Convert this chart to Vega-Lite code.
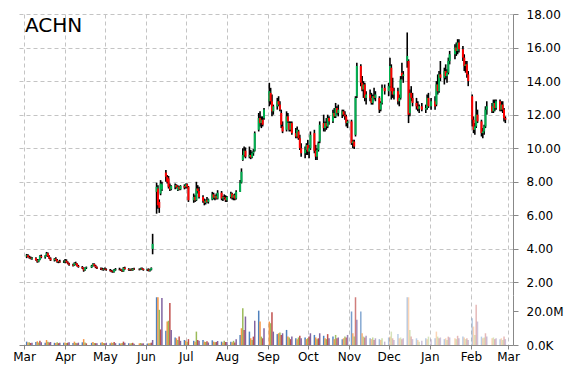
{
"$schema": "https://vega.github.io/schema/vega-lite/v6.json",
"background": "white",
"padding": {"left": 12, "top": 8, "right": 5, "bottom": 5},
"title": {"text": "ACHN", "anchor": "start", "frame": "group", "font": "DejaVu Sans", "fontSize": 20, "fontWeight": "normal", "color": "#000000", "dx": 6, "dy": 28, "offset": 0},
"config": {"font": "DejaVu Sans", "view": {"stroke": null}},
"spacing": 0,
"resolve": {"scale": {"y": "independent"}, "axis": {"y": "independent"}},
"data": {"values": [
{"d":"2014-03-03","o":3.55,"h":3.70,"l":3.45,"c":3.62,"v":2.0},
{"d":"2014-03-04","o":3.62,"h":3.68,"l":3.50,"c":3.52,"v":1.5},
{"d":"2014-03-05","o":3.52,"h":3.60,"l":3.42,"c":3.48,"v":1.6},
{"d":"2014-03-06","o":3.48,"h":3.55,"l":3.38,"c":3.42,"v":1.2},
{"d":"2014-03-07","o":3.42,"h":3.52,"l":3.36,"c":3.47,"v":1.4},
{"d":"2014-03-10","o":3.45,"h":3.50,"l":3.30,"c":3.33,"v":1.8},
{"d":"2014-03-11","o":3.33,"h":3.40,"l":3.18,"c":3.24,"v":2.2},
{"d":"2014-03-12","o":3.24,"h":3.38,"l":3.20,"c":3.35,"v":1.5},
{"d":"2014-03-13","o":3.35,"h":3.62,"l":3.32,"c":3.58,"v":2.5},
{"d":"2014-03-14","o":3.58,"h":3.66,"l":3.44,"c":3.50,"v":1.6},
{"d":"2014-03-17","o":3.50,"h":3.62,"l":3.42,"c":3.60,"v":1.4},
{"d":"2014-03-18","o":3.60,"h":3.82,"l":3.55,"c":3.74,"v":3.0},
{"d":"2014-03-19","o":3.74,"h":3.78,"l":3.52,"c":3.56,"v":2.0},
{"d":"2014-03-20","o":3.56,"h":3.62,"l":3.40,"c":3.44,"v":1.5},
{"d":"2014-03-21","o":3.44,"h":3.50,"l":3.28,"c":3.32,"v":1.8},
{"d":"2014-03-24","o":3.32,"h":3.45,"l":3.25,"c":3.42,"v":1.3},
{"d":"2014-03-25","o":3.42,"h":3.50,"l":3.30,"c":3.34,"v":1.2},
{"d":"2014-03-26","o":3.34,"h":3.40,"l":3.18,"c":3.22,"v":1.6},
{"d":"2014-03-27","o":3.22,"h":3.30,"l":3.15,"c":3.26,"v":1.1},
{"d":"2014-03-28","o":3.26,"h":3.35,"l":3.18,"c":3.20,"v":1.4},
{"d":"2014-03-31","o":3.20,"h":3.32,"l":3.16,"c":3.24,"v":1.3},
{"d":"2014-04-01","o":3.24,"h":3.40,"l":3.15,"c":3.30,"v":1.5},
{"d":"2014-04-02","o":3.30,"h":3.38,"l":3.18,"c":3.20,"v":1.2},
{"d":"2014-04-03","o":3.20,"h":3.26,"l":3.08,"c":3.12,"v":1.3},
{"d":"2014-04-04","o":3.12,"h":3.18,"l":3.00,"c":3.06,"v":1.6},
{"d":"2014-04-07","o":3.06,"h":3.12,"l":2.95,"c":3.00,"v":1.2},
{"d":"2014-04-08","o":3.00,"h":3.20,"l":2.98,"c":3.16,"v":2.0},
{"d":"2014-04-09","o":3.16,"h":3.24,"l":3.05,"c":3.12,"v":1.3},
{"d":"2014-04-10","o":3.12,"h":3.15,"l":2.95,"c":2.98,"v":1.1},
{"d":"2014-04-11","o":2.98,"h":3.05,"l":2.88,"c":2.92,"v":1.4},
{"d":"2014-04-14","o":2.92,"h":2.98,"l":2.80,"c":2.85,"v":1.6},
{"d":"2014-04-15","o":2.85,"h":2.90,"l":2.64,"c":2.72,"v":3.5},
{"d":"2014-04-16","o":2.72,"h":2.90,"l":2.70,"c":2.86,"v":1.5},
{"d":"2014-04-17","o":2.86,"h":2.95,"l":2.80,"c":2.90,"v":1.0},
{"d":"2014-04-21","o":2.90,"h":3.05,"l":2.86,"c":3.00,"v":1.3},
{"d":"2014-04-22","o":3.00,"h":3.15,"l":2.95,"c":3.10,"v":1.8},
{"d":"2014-04-23","o":3.10,"h":3.14,"l":2.96,"c":3.00,"v":1.2},
{"d":"2014-04-24","o":3.00,"h":3.05,"l":2.85,"c":2.90,"v":1.1},
{"d":"2014-04-25","o":2.90,"h":2.95,"l":2.80,"c":2.84,"v":1.0},
{"d":"2014-04-28","o":2.84,"h":2.90,"l":2.74,"c":2.80,"v":1.4},
{"d":"2014-04-29","o":2.80,"h":2.88,"l":2.72,"c":2.76,"v":1.6},
{"d":"2014-04-30","o":2.76,"h":2.85,"l":2.70,"c":2.82,"v":1.2},
{"d":"2014-05-01","o":2.82,"h":2.90,"l":2.74,"c":2.78,"v":1.1},
{"d":"2014-05-02","o":2.78,"h":2.84,"l":2.70,"c":2.74,"v":1.3},
{"d":"2014-05-05","o":2.74,"h":2.80,"l":2.66,"c":2.70,"v":1.0},
{"d":"2014-05-06","o":2.70,"h":2.76,"l":2.60,"c":2.64,"v":1.5},
{"d":"2014-05-07","o":2.64,"h":2.72,"l":2.58,"c":2.62,"v":1.2},
{"d":"2014-05-08","o":2.62,"h":2.80,"l":2.60,"c":2.76,"v":1.8},
{"d":"2014-05-09","o":2.76,"h":2.86,"l":2.70,"c":2.80,"v":1.1},
{"d":"2014-05-12","o":2.80,"h":2.88,"l":2.72,"c":2.78,"v":1.0},
{"d":"2014-05-13","o":2.78,"h":2.82,"l":2.68,"c":2.72,"v":0.9},
{"d":"2014-05-14","o":2.72,"h":2.78,"l":2.62,"c":2.66,"v":1.2},
{"d":"2014-05-15","o":2.66,"h":2.92,"l":2.64,"c":2.88,"v":2.0},
{"d":"2014-05-16","o":2.88,"h":2.94,"l":2.76,"c":2.80,"v":1.4},
{"d":"2014-05-19","o":2.80,"h":2.85,"l":2.70,"c":2.74,"v":1.0},
{"d":"2014-05-20","o":2.74,"h":2.82,"l":2.68,"c":2.78,"v":0.9},
{"d":"2014-05-21","o":2.78,"h":2.84,"l":2.70,"c":2.72,"v":1.1},
{"d":"2014-05-22","o":2.72,"h":2.86,"l":2.70,"c":2.82,"v":1.3},
{"d":"2014-05-23","o":2.82,"h":2.88,"l":2.74,"c":2.78,"v":0.8},
{"d":"2014-05-27","o":2.78,"h":2.84,"l":2.72,"c":2.76,"v":1.0},
{"d":"2014-05-28","o":2.76,"h":2.88,"l":2.74,"c":2.84,"v":1.2},
{"d":"2014-05-29","o":2.84,"h":2.90,"l":2.76,"c":2.80,"v":0.9},
{"d":"2014-05-30","o":2.80,"h":2.84,"l":2.70,"c":2.74,"v":1.0},
{"d":"2014-06-02","o":2.74,"h":2.82,"l":2.68,"c":2.78,"v":0.9},
{"d":"2014-06-03","o":2.78,"h":2.84,"l":2.66,"c":2.70,"v":1.0},
{"d":"2014-06-04","o":2.70,"h":2.80,"l":2.66,"c":2.76,"v":1.1},
{"d":"2014-06-05","o":2.76,"h":2.90,"l":2.72,"c":2.86,"v":1.4},
{"d":"2014-06-06","o":4.00,"h":4.90,"l":3.68,"c":4.30,"v":3.0},
{"d":"2014-06-09","o":7.40,"h":7.95,"l":6.10,"c":7.70,"v":28.5},
{"d":"2014-06-10","o":7.60,"h":7.80,"l":6.40,"c":6.60,"v":28.5},
{"d":"2014-06-11","o":6.80,"h":6.95,"l":6.15,"c":6.45,"v":21.0},
{"d":"2014-06-12","o":7.30,"h":8.10,"l":7.20,"c":7.90,"v":9.3},
{"d":"2014-06-13","o":7.55,"h":8.00,"l":7.45,"c":7.85,"v":28.0},
{"d":"2014-06-16","o":8.55,"h":8.70,"l":8.00,"c":8.30,"v":8.5},
{"d":"2014-06-17","o":8.30,"h":8.40,"l":7.90,"c":8.00,"v":14.0},
{"d":"2014-06-18","o":8.20,"h":8.35,"l":7.60,"c":7.70,"v":14.5},
{"d":"2014-06-19","o":7.70,"h":7.90,"l":7.45,"c":7.55,"v":25.0},
{"d":"2014-06-20","o":7.55,"h":7.80,"l":7.50,"c":7.75,"v":9.0},
{"d":"2014-06-23","o":7.70,"h":7.90,"l":7.55,"c":7.80,"v":4.5},
{"d":"2014-06-24","o":7.80,"h":7.85,"l":7.60,"c":7.65,"v":4.0},
{"d":"2014-06-25","o":7.50,"h":7.80,"l":7.45,"c":7.70,"v":3.0},
{"d":"2014-06-26","o":7.70,"h":7.75,"l":7.50,"c":7.55,"v":5.0},
{"d":"2014-06-27","o":7.55,"h":7.80,"l":7.50,"c":7.75,"v":2.5},
{"d":"2014-06-30","o":7.75,"h":7.85,"l":7.55,"c":7.65,"v":3.0},
{"d":"2014-07-01","o":7.70,"h":7.90,"l":7.60,"c":7.85,"v":2.5},
{"d":"2014-07-02","o":7.85,"h":7.90,"l":7.60,"c":7.70,"v":2.0},
{"d":"2014-07-03","o":7.70,"h":7.75,"l":6.80,"c":6.90,"v":3.5},
{"d":"2014-07-07","o":6.90,"h":7.30,"l":6.75,"c":7.10,"v":2.5},
{"d":"2014-07-08","o":7.10,"h":7.20,"l":6.80,"c":6.90,"v":2.0},
{"d":"2014-07-09","o":6.90,"h":8.00,"l":6.85,"c":7.60,"v":8.0},
{"d":"2014-07-10","o":7.60,"h":7.80,"l":7.30,"c":7.45,"v":3.0},
{"d":"2014-07-11","o":7.45,"h":7.70,"l":7.00,"c":7.10,"v":2.5},
{"d":"2014-07-14","o":7.10,"h":7.20,"l":6.75,"c":6.85,"v":3.0},
{"d":"2014-07-15","o":6.85,"h":7.00,"l":6.60,"c":6.75,"v":2.0},
{"d":"2014-07-16","o":6.75,"h":6.95,"l":6.65,"c":6.90,"v":1.8},
{"d":"2014-07-17","o":6.90,"h":7.10,"l":6.75,"c":6.80,"v":2.2},
{"d":"2014-07-18","o":6.80,"h":7.00,"l":6.70,"c":6.95,"v":1.5},
{"d":"2014-07-21","o":6.95,"h":7.40,"l":6.90,"c":7.25,"v":2.8},
{"d":"2014-07-22","o":7.25,"h":7.35,"l":6.95,"c":7.05,"v":2.0},
{"d":"2014-07-23","o":7.05,"h":7.20,"l":6.90,"c":7.15,"v":1.6},
{"d":"2014-07-24","o":7.15,"h":7.30,"l":6.95,"c":7.00,"v":1.8},
{"d":"2014-07-25","o":7.00,"h":7.50,"l":6.95,"c":7.35,"v":2.4},
{"d":"2014-07-28","o":7.35,"h":7.45,"l":6.90,"c":7.00,"v":2.0},
{"d":"2014-07-29","o":7.00,"h":7.15,"l":6.85,"c":7.10,"v":1.5},
{"d":"2014-07-30","o":7.10,"h":7.25,"l":6.95,"c":7.05,"v":2.6},
{"d":"2014-07-31","o":7.05,"h":7.20,"l":6.80,"c":6.90,"v":1.8},
{"d":"2014-08-01","o":6.90,"h":7.15,"l":6.80,"c":7.10,"v":1.8},
{"d":"2014-08-04","o":7.10,"h":7.40,"l":7.00,"c":7.30,"v":2.0},
{"d":"2014-08-05","o":7.30,"h":7.35,"l":6.95,"c":7.05,"v":1.6},
{"d":"2014-08-06","o":7.05,"h":7.25,"l":6.90,"c":7.20,"v":2.5},
{"d":"2014-08-07","o":7.20,"h":7.30,"l":6.90,"c":7.00,"v":1.5},
{"d":"2014-08-08","o":7.00,"h":7.50,"l":6.95,"c":7.40,"v":3.5},
{"d":"2014-08-11","o":7.40,"h":8.10,"l":7.40,"c":7.95,"v":6.0},
{"d":"2014-08-12","o":7.95,"h":8.80,"l":7.90,"c":8.60,"v":10.0},
{"d":"2014-08-13","o":9.30,"h":10.00,"l":9.25,"c":9.60,"v":22.0},
{"d":"2014-08-14","o":9.60,"h":10.10,"l":9.50,"c":9.85,"v":9.0},
{"d":"2014-08-15","o":9.85,"h":10.05,"l":9.40,"c":9.50,"v":17.0},
{"d":"2014-08-18","o":9.50,"h":10.10,"l":9.40,"c":9.60,"v":8.0},
{"d":"2014-08-19","o":9.60,"h":9.90,"l":9.35,"c":9.45,"v":4.0},
{"d":"2014-08-20","o":9.45,"h":9.80,"l":9.40,"c":9.70,"v":3.0},
{"d":"2014-08-21","o":9.70,"h":9.95,"l":9.55,"c":9.80,"v":5.0},
{"d":"2014-08-22","o":9.85,"h":11.00,"l":9.80,"c":10.90,"v":14.5},
{"d":"2014-08-25","o":11.10,"h":12.10,"l":11.00,"c":11.80,"v":20.5},
{"d":"2014-08-26","o":11.80,"h":12.20,"l":11.30,"c":11.50,"v":14.0},
{"d":"2014-08-27","o":11.50,"h":11.90,"l":11.20,"c":11.70,"v":5.0},
{"d":"2014-08-28","o":11.70,"h":11.90,"l":11.30,"c":11.40,"v":4.0},
{"d":"2014-08-29","o":11.80,"h":12.40,"l":11.70,"c":12.30,"v":10.0},
{"d":"2014-09-02","o":12.80,"h":13.90,"l":12.50,"c":13.40,"v":14.0},
{"d":"2014-09-03","o":13.30,"h":13.60,"l":12.60,"c":12.80,"v":13.0},
{"d":"2014-09-04","o":12.80,"h":13.20,"l":11.90,"c":12.20,"v":19.5},
{"d":"2014-09-05","o":12.20,"h":12.60,"l":12.00,"c":12.50,"v":8.0},
{"d":"2014-09-08","o":12.50,"h":13.00,"l":12.30,"c":12.80,"v":6.5},
{"d":"2014-09-09","o":12.80,"h":13.10,"l":12.50,"c":12.60,"v":7.0},
{"d":"2014-09-10","o":12.60,"h":12.80,"l":12.20,"c":12.30,"v":7.5},
{"d":"2014-09-11","o":12.10,"h":12.30,"l":11.20,"c":11.40,"v":6.0},
{"d":"2014-09-12","o":11.30,"h":11.60,"l":10.90,"c":11.00,"v":7.0},
{"d":"2014-09-15","o":11.10,"h":12.20,"l":11.00,"c":11.90,"v":9.0},
{"d":"2014-09-16","o":11.90,"h":12.10,"l":11.50,"c":11.60,"v":5.0},
{"d":"2014-09-17","o":11.50,"h":11.60,"l":11.00,"c":11.10,"v":4.5},
{"d":"2014-09-18","o":11.10,"h":11.60,"l":11.00,"c":11.50,"v":3.5},
{"d":"2014-09-19","o":11.50,"h":11.60,"l":10.80,"c":10.90,"v":5.0},
{"d":"2014-09-22","o":10.90,"h":11.20,"l":10.60,"c":10.70,"v":4.0},
{"d":"2014-09-23","o":10.70,"h":11.30,"l":10.60,"c":11.10,"v":3.5},
{"d":"2014-09-24","o":11.00,"h":11.10,"l":10.50,"c":10.60,"v":4.5},
{"d":"2014-09-25","o":10.60,"h":10.80,"l":9.90,"c":10.00,"v":5.5},
{"d":"2014-09-26","o":10.00,"h":10.30,"l":9.50,"c":9.70,"v":4.0},
{"d":"2014-09-29","o":9.70,"h":10.10,"l":9.40,"c":9.90,"v":4.5},
{"d":"2014-09-30","o":9.90,"h":10.30,"l":9.60,"c":10.20,"v":3.5},
{"d":"2014-10-01","o":10.20,"h":10.50,"l":9.60,"c":9.80,"v":4.0},
{"d":"2014-10-02","o":9.80,"h":10.20,"l":9.40,"c":10.00,"v":5.0},
{"d":"2014-10-03","o":10.00,"h":11.00,"l":9.90,"c":10.80,"v":7.0},
{"d":"2014-10-06","o":10.90,"h":11.10,"l":9.70,"c":9.85,"v":6.0},
{"d":"2014-10-07","o":9.85,"h":10.20,"l":9.30,"c":9.50,"v":4.5},
{"d":"2014-10-08","o":9.50,"h":10.00,"l":9.30,"c":9.90,"v":3.5},
{"d":"2014-10-09","o":9.90,"h":10.40,"l":9.80,"c":10.30,"v":4.0},
{"d":"2014-10-10","o":10.40,"h":11.60,"l":10.30,"c":11.40,"v":7.0},
{"d":"2014-10-13","o":11.50,"h":12.00,"l":11.00,"c":11.20,"v":5.5},
{"d":"2014-10-14","o":11.20,"h":11.60,"l":11.00,"c":11.50,"v":4.0},
{"d":"2014-10-15","o":11.50,"h":11.80,"l":11.10,"c":11.30,"v":3.5},
{"d":"2014-10-16","o":11.30,"h":12.00,"l":11.20,"c":11.80,"v":6.5},
{"d":"2014-10-17","o":11.80,"h":11.90,"l":11.40,"c":11.60,"v":4.0},
{"d":"2014-10-20","o":11.60,"h":12.30,"l":11.50,"c":12.10,"v":5.0},
{"d":"2014-10-21","o":12.10,"h":12.40,"l":11.80,"c":11.90,"v":3.5},
{"d":"2014-10-22","o":11.90,"h":12.70,"l":11.80,"c":12.40,"v":6.0},
{"d":"2014-10-23","o":12.40,"h":12.50,"l":12.00,"c":12.10,"v":4.0},
{"d":"2014-10-24","o":12.10,"h":12.60,"l":11.90,"c":12.30,"v":4.5},
{"d":"2014-10-27","o":12.00,"h":12.30,"l":11.80,"c":12.20,"v":3.5},
{"d":"2014-10-28","o":12.20,"h":12.30,"l":11.90,"c":12.00,"v":4.0},
{"d":"2014-10-29","o":12.00,"h":12.20,"l":11.70,"c":11.90,"v":5.0},
{"d":"2014-10-30","o":11.90,"h":12.00,"l":11.30,"c":11.50,"v":4.5},
{"d":"2014-10-31","o":11.50,"h":11.70,"l":11.20,"c":11.60,"v":6.0},
{"d":"2014-11-03","o":11.60,"h":11.70,"l":10.20,"c":10.30,"v":20.0},
{"d":"2014-11-04","o":10.30,"h":10.50,"l":10.00,"c":10.40,"v":7.0},
{"d":"2014-11-05","o":10.40,"h":10.50,"l":9.95,"c":10.10,"v":5.0},
{"d":"2014-11-06","o":10.80,"h":13.10,"l":10.70,"c":13.00,"v":28.5},
{"d":"2014-11-07","o":13.10,"h":15.10,"l":13.00,"c":14.90,"v":15.0},
{"d":"2014-11-10","o":14.90,"h":15.00,"l":13.70,"c":13.90,"v":20.0},
{"d":"2014-11-11","o":13.90,"h":14.30,"l":13.40,"c":13.50,"v":7.0},
{"d":"2014-11-12","o":13.50,"h":14.00,"l":13.00,"c":13.80,"v":5.0},
{"d":"2014-11-13","o":13.80,"h":13.90,"l":12.80,"c":13.00,"v":4.5},
{"d":"2014-11-14","o":13.00,"h":13.40,"l":12.60,"c":13.20,"v":5.5},
{"d":"2014-11-17","o":13.20,"h":13.50,"l":12.80,"c":13.00,"v":4.0},
{"d":"2014-11-18","o":13.00,"h":13.30,"l":12.60,"c":12.70,"v":3.5},
{"d":"2014-11-19","o":12.70,"h":13.20,"l":12.60,"c":13.10,"v":4.5},
{"d":"2014-11-20","o":13.10,"h":13.60,"l":12.90,"c":13.00,"v":3.0},
{"d":"2014-11-21","o":13.00,"h":13.40,"l":12.80,"c":13.20,"v":4.0},
{"d":"2014-11-24","o":13.00,"h":13.10,"l":12.10,"c":12.30,"v":3.5},
{"d":"2014-11-25","o":12.30,"h":12.80,"l":12.20,"c":12.70,"v":3.0},
{"d":"2014-11-26","o":12.70,"h":13.80,"l":12.60,"c":13.60,"v":4.0},
{"d":"2014-11-28","o":13.60,"h":13.80,"l":13.20,"c":13.40,"v":2.0},
{"d":"2014-12-01","o":13.40,"h":13.90,"l":13.10,"c":13.70,"v":4.5},
{"d":"2014-12-02","o":13.70,"h":15.40,"l":13.60,"c":14.90,"v":5.0},
{"d":"2014-12-03","o":14.80,"h":15.00,"l":12.90,"c":13.40,"v":8.0},
{"d":"2014-12-04","o":13.60,"h":14.20,"l":13.00,"c":13.20,"v":4.0},
{"d":"2014-12-05","o":13.20,"h":13.60,"l":12.90,"c":13.40,"v":3.0},
{"d":"2014-12-08","o":13.40,"h":13.60,"l":12.60,"c":12.80,"v":6.5},
{"d":"2014-12-09","o":12.80,"h":13.20,"l":12.50,"c":13.00,"v":4.0},
{"d":"2014-12-10","o":13.00,"h":14.30,"l":12.90,"c":14.10,"v":4.5},
{"d":"2014-12-11","o":14.50,"h":15.10,"l":14.10,"c":14.30,"v":3.5},
{"d":"2014-12-12","o":14.30,"h":14.60,"l":13.90,"c":14.40,"v":4.0},
{"d":"2014-12-15","o":15.20,"h":16.90,"l":14.80,"c":15.50,"v":28.5},
{"d":"2014-12-16","o":15.20,"h":15.30,"l":11.50,"c":12.00,"v":28.5},
{"d":"2014-12-17","o":12.10,"h":13.50,"l":11.90,"c":13.30,"v":9.0},
{"d":"2014-12-18","o":13.30,"h":13.70,"l":12.80,"c":13.00,"v":5.0},
{"d":"2014-12-19","o":13.00,"h":13.30,"l":12.50,"c":12.70,"v":3.5},
{"d":"2014-12-22","o":12.70,"h":13.00,"l":12.30,"c":12.50,"v":4.0},
{"d":"2014-12-23","o":12.50,"h":12.80,"l":12.20,"c":12.35,"v":3.0},
{"d":"2014-12-24","o":12.35,"h":12.60,"l":12.10,"c":12.50,"v":2.0},
{"d":"2014-12-26","o":12.50,"h":12.70,"l":12.20,"c":12.30,"v":2.5},
{"d":"2014-12-29","o":12.30,"h":12.60,"l":12.10,"c":12.40,"v":4.0},
{"d":"2014-12-30","o":12.40,"h":13.20,"l":12.30,"c":13.00,"v":3.5},
{"d":"2014-12-31","o":13.00,"h":13.30,"l":12.40,"c":12.50,"v":5.0},
{"d":"2015-01-02","o":12.50,"h":13.00,"l":12.30,"c":12.80,"v":3.5},
{"d":"2015-01-05","o":12.80,"h":13.10,"l":12.30,"c":12.50,"v":4.0},
{"d":"2015-01-06","o":12.60,"h":14.00,"l":12.50,"c":13.80,"v":8.0},
{"d":"2015-01-07","o":13.80,"h":14.40,"l":13.20,"c":13.40,"v":5.0},
{"d":"2015-01-08","o":13.40,"h":14.60,"l":13.30,"c":14.40,"v":4.0},
{"d":"2015-01-09","o":14.40,"h":15.20,"l":14.00,"c":14.20,"v":4.5},
{"d":"2015-01-12","o":14.20,"h":14.80,"l":13.80,"c":14.60,"v":3.5},
{"d":"2015-01-13","o":14.60,"h":15.00,"l":14.10,"c":14.30,"v":4.0},
{"d":"2015-01-14","o":14.30,"h":14.70,"l":13.90,"c":14.50,"v":3.0},
{"d":"2015-01-15","o":14.50,"h":15.40,"l":14.40,"c":15.20,"v":5.0},
{"d":"2015-01-16","o":15.20,"h":15.80,"l":15.00,"c":15.60,"v":4.5},
{"d":"2015-01-20","o":15.60,"h":16.20,"l":15.30,"c":16.00,"v":4.0},
{"d":"2015-01-21","o":16.00,"h":16.30,"l":15.50,"c":15.80,"v":3.5},
{"d":"2015-01-22","o":15.80,"h":16.50,"l":15.60,"c":16.30,"v":5.5},
{"d":"2015-01-23","o":16.30,"h":16.50,"l":15.70,"c":15.90,"v":4.0},
{"d":"2015-01-26","o":15.90,"h":16.10,"l":15.20,"c":15.40,"v":5.0},
{"d":"2015-01-27","o":15.40,"h":15.60,"l":14.60,"c":14.90,"v":4.5},
{"d":"2015-01-28","o":14.90,"h":15.20,"l":14.50,"c":15.00,"v":3.5},
{"d":"2015-01-29","o":15.00,"h":15.20,"l":14.20,"c":14.40,"v":4.0},
{"d":"2015-01-30","o":14.40,"h":14.60,"l":13.70,"c":14.00,"v":3.0},
{"d":"2015-02-02","o":13.10,"h":13.20,"l":11.30,"c":11.70,"v":16.0},
{"d":"2015-02-03","o":11.70,"h":11.90,"l":10.90,"c":11.10,"v":11.0},
{"d":"2015-02-04","o":11.10,"h":11.50,"l":10.80,"c":11.30,"v":6.0},
{"d":"2015-02-05","o":11.30,"h":12.80,"l":11.20,"c":12.00,"v":24.0},
{"d":"2015-02-06","o":12.00,"h":12.30,"l":11.50,"c":11.60,"v":14.0},
{"d":"2015-02-09","o":11.60,"h":11.70,"l":10.70,"c":10.90,"v":5.0},
{"d":"2015-02-10","o":10.90,"h":11.20,"l":10.60,"c":11.00,"v":4.0},
{"d":"2015-02-11","o":11.00,"h":11.40,"l":10.80,"c":11.30,"v":4.5},
{"d":"2015-02-12","o":11.30,"h":12.50,"l":11.20,"c":12.30,"v":7.0},
{"d":"2015-02-13","o":12.30,"h":12.80,"l":12.00,"c":12.50,"v":5.0},
{"d":"2015-02-17","o":12.50,"h":12.70,"l":12.10,"c":12.20,"v":4.0},
{"d":"2015-02-18","o":12.20,"h":12.90,"l":12.10,"c":12.70,"v":4.5},
{"d":"2015-02-19","o":12.70,"h":12.90,"l":12.20,"c":12.40,"v":3.5},
{"d":"2015-02-20","o":12.40,"h":12.90,"l":12.30,"c":12.80,"v":4.0},
{"d":"2015-02-23","o":12.80,"h":12.90,"l":12.20,"c":12.30,"v":3.5},
{"d":"2015-02-24","o":12.30,"h":12.80,"l":12.20,"c":12.60,"v":4.0},
{"d":"2015-02-25","o":12.60,"h":12.80,"l":12.10,"c":12.30,"v":3.0},
{"d":"2015-02-26","o":12.30,"h":12.40,"l":11.60,"c":11.80,"v":5.0},
{"d":"2015-02-27","o":11.80,"h":11.90,"l":11.50,"c":11.70,"v":3.5}
]},
"vconcat": [
{
 "width": 494, "height": 281,
 "encoding": {
  "x": {"field": "d", "type": "temporal",
   "scale": {"type": "utc", "domain": [{"year": 2014, "month": 3, "date": 1, "utc": true}, {"year": 2015, "month": 3, "date": 1, "utc": true}]},
   "axis": {"title": null, "labels": false, "ticks": false, "domain": false, "grid": true, "gridColor": "#c4c4c4", "gridDash": [4, 3], "gridWidth": 1, "tickCount": {"interval": "month", "step": 1}}}
 },
 "layer": [
  {"mark": {"type": "rule", "color": "#000000", "strokeWidth": 1.6},
   "encoding": {
    "y": {"field": "l", "type": "quantitative",
     "scale": {"domain": [1.254, 18], "nice": false, "zero": false},
     "axis": {"orient": "right", "title": null, "values": [2, 4, 6, 8, 10, 12, 14, 16, 18], "format": ".2f", "labelOverlap": false, "labelFlush": false, "grid": true, "gridColor": "#c4c4c4", "gridDash": [4, 3], "domainColor": "#888888", "tickColor": "#888888", "tickSize": 5, "labelPadding": 8, "labelFont": "DejaVu Sans", "labelFontSize": 12, "labelColor": "#000000"}},
    "y2": {"field": "h"}
   }},
  {"mark": {"type": "bar", "width": 2},
   "encoding": {
    "y": {"field": "o", "type": "quantitative",
     "scale": {"domain": [1.254, 18], "nice": false, "zero": false},
     "axis": {"orient": "right", "title": null, "values": [2, 4, 6, 8, 10, 12, 14, 16, 18], "format": ".2f", "labelOverlap": false, "labelFlush": false, "grid": true, "gridColor": "#c4c4c4", "gridDash": [4, 3], "domainColor": "#888888", "tickColor": "#888888", "tickSize": 5, "labelPadding": 8, "labelFont": "DejaVu Sans", "labelFontSize": 12, "labelColor": "#000000"}},
    "y2": {"field": "c"},
    "color": {"condition": {"test": "datum.c >= datum.o", "value": "#00b050"}, "value": "#ff0000"}
   }}
 ]
},
{
 "width": 494, "height": 50,
 "mark": {"type": "bar", "width": 1.5},
 "encoding": {
  "x": {"field": "d", "type": "temporal",
   "scale": {"type": "utc", "domain": [{"year": 2014, "month": 3, "date": 1, "utc": true}, {"year": 2015, "month": 3, "date": 1, "utc": true}]},
   "axis": {"title": null, "format": "%b", "labelFlush": false, "labelOverlap": false, "grid": true, "gridColor": "#c4c4c4", "gridDash": [4, 3], "tickCount": {"interval": "month", "step": 1}, "domainColor": "#888888", "tickColor": "#888888", "tickSize": 4, "labelPadding": 2, "labelFont": "DejaVu Sans", "labelFontSize": 12, "labelColor": "#000000"}},
  "y": {"field": "v", "type": "quantitative",
   "scale": {"domain": [0, 29.85], "nice": false},
   "axis": {"orient": "right", "title": null, "values": [0, 20], "labelOverlap": false, "labelFlush": false, "labelExpr": "datum.value == 0 ? '0.0K' : format(datum.value, '.1f') + 'M'", "grid": false, "domainColor": "#888888", "tickColor": "#888888", "tickSize": 5, "labelPadding": 8, "labelFont": "DejaVu Sans", "labelFontSize": 12, "labelColor": "#000000"}},
  "color": {"timeUnit": "utcday", "field": "d", "type": "nominal", "scale": {"range": ["#4f81bd", "#f79646", "#9bbb59", "#c0504d", "#8064a2"]}, "legend": null},
  "opacity": {"field": "d", "type": "temporal", "scale": {"domain": [{"year": 2014, "month": 10, "date": 15, "utc": true}, {"year": 2014, "month": 12, "date": 5, "utc": true}], "range": [1, 0.4], "clamp": true}, "legend": null}
 }
}
]
}
